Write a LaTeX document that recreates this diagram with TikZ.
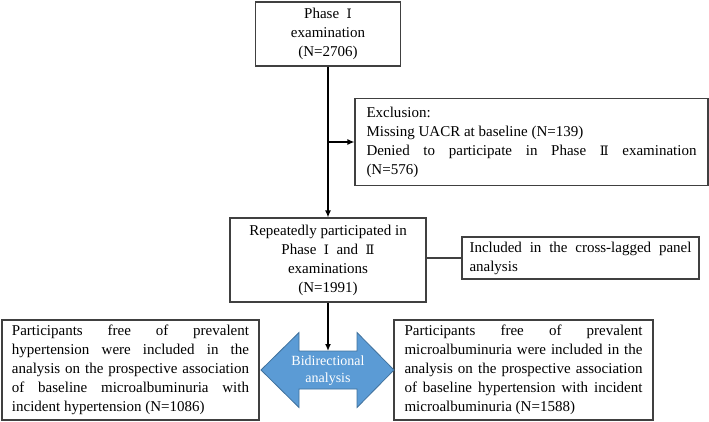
\documentclass[tikz,border=0pt]{standalone}
\usepackage{fontspec}
\setmainfont{Liberation Serif}
\newfontfamily\rnfont{DejaVu Serif}
\newcommand{\RNone}{{\rnfont\fontsize{13}{19}\selectfont Ⅰ}}
\newcommand{\RNtwo}{{\rnfont\fontsize{13}{19}\selectfont Ⅱ}}
\usetikzlibrary{arrows.meta}
\definecolor{boxline}{HTML}{404040}
\definecolor{arrfill}{HTML}{5B9BD5}
\definecolor{arrline}{HTML}{41719C}
\hyphenpenalty=10000
\exhyphenpenalty=10000
\tolerance=10000
\begin{document}
\begin{tikzpicture}[x=1pt,y=-1pt,
  box/.style={draw=boxline,line width=1.1pt,inner sep=0pt,font=\fontsize{15}{19}\selectfont},
  jbox/.style={box,align=justify},
  conn/.style={line width=1.3pt,-{Latex[length=7pt,width=6pt]}},
  plain/.style={line width=1.1pt,draw=boxline},
  dblarrow/.style={fill=arrfill,draw=arrline,line width=0.8pt},
  dbltext/.style={text=white,align=center,font=\fontsize{14}{17}\selectfont}]
\useasboundingbox (0,0) rectangle (709,422);
\node[box,minimum width=145pt,minimum height=64pt,align=center] (p1) at (328,34)
  {Phase\ \ \RNone\\examination\\(N=2706)};
\node[jbox,text width=330pt,minimum width=353pt,minimum height=87pt] (excl) at (531.5,142)
  {Exclusion:\\Missing UACR at baseline (N=139)\\Denied to participate in Phase \RNtwo\ examination\linebreak (N=576)};
\node[box,minimum width=196pt,minimum height=84pt,align=center] (b3) at (328,260)
  {Repeatedly participated in\\Phase\ \ \RNone\ \ and\ \ \RNtwo\\examinations\\(N=1991)};
\node[jbox,text width=222pt,minimum width=237pt,minimum height=42pt] (incl) at (580.5,258)
  {Included in the cross-lagged panel\linebreak analysis};
\node[jbox,text width=237pt,minimum width=257pt,minimum height=100pt] (left) at (130.5,370)
  {Participants free of prevalent\linebreak hypertension were included in the\linebreak analysis on the prospective association\linebreak of baseline microalbuminuria with\linebreak incident hypertension (N=1086)};
\node[jbox,text width=238pt,minimum width=259pt,minimum height=100pt] (right) at (523.5,370)
  {Participants free of prevalent\linebreak microalbuminuria were included in the\linebreak analysis on the prospective association\linebreak of baseline hypertension with incident\linebreak microalbuminuria (N=1588)};
\draw[dblarrow] (261,370) -- (299,332.5) -- (299,351) -- (357,351) -- (357,332.5) -- (394,370)
  -- (357,407.5) -- (357,389) -- (299,389) -- (299,407.5) -- cycle;
\node[dbltext] (bid) at (328,371) {Bidirectional\\analysis};
\coordinate (datop) at (328,351);
\draw[conn] (p1) -- (b3);
\draw[conn] (p1.south |- excl.west) -- (excl.west);
\draw[plain] (b3.east |- incl.west) -- (incl.west);
\draw[conn] (b3) -- (datop);
\end{tikzpicture}
\end{document}
